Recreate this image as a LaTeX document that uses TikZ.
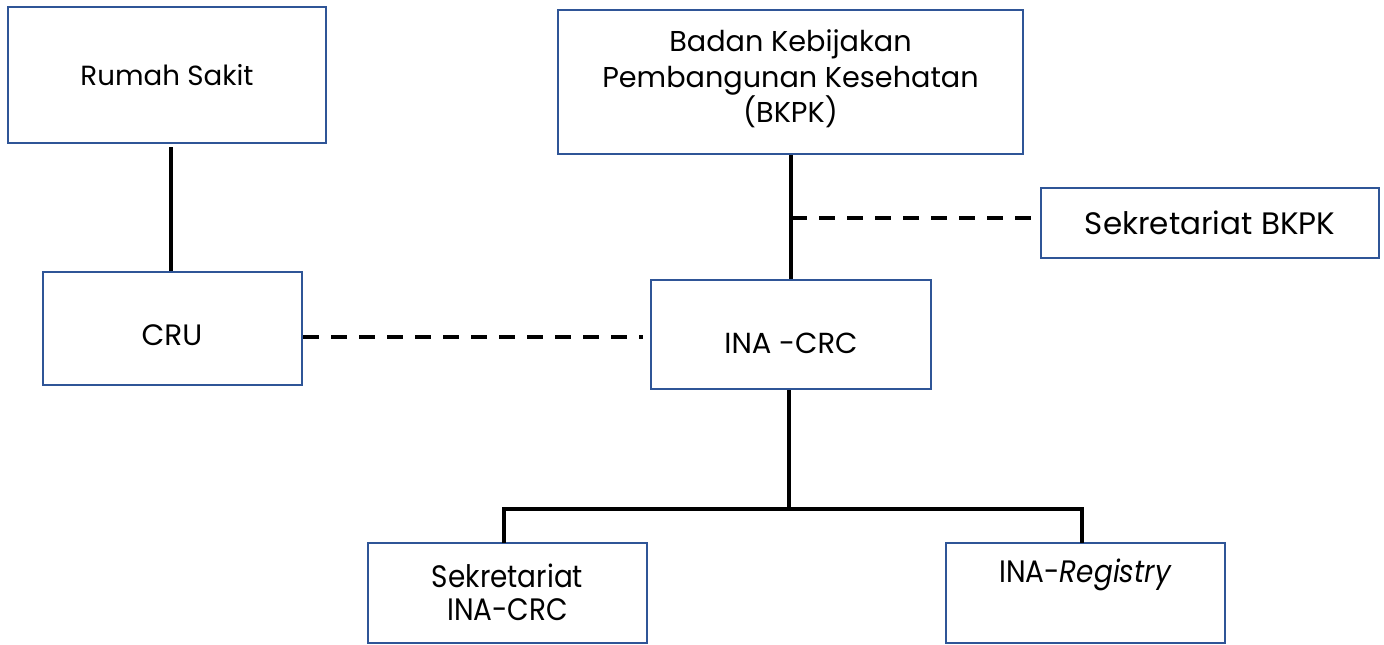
\documentclass[tikz,border=0pt]{standalone}
\usepackage{fontspec}
\setmainfont{Poppins}
\newfontfamily\narrowfont[FakeStretch=0.9]{Poppins}
\definecolor{boxblue}{HTML}{2F5597}
\begin{document}
\begin{tikzpicture}[x=1pt,y=-1pt,
  box/.style={draw=boxblue,line width=2.2pt,fill=white,inner sep=0pt,align=center},
  txt/.style={inner sep=0pt,align=center},
  solidline/.style={line width=3.4pt},
  dashline/.style={line width=3.4pt,dash pattern=on 16pt off 12pt}]
\useasboundingbox (0,0) rectangle (1384,645);
\node[box,minimum width=318pt,minimum height=136pt,font=\fontsize{27.7}{35}\selectfont] (rs) at (167,75) {Rumah Sakit};
\node[box,minimum width=465pt,minimum height=144pt] (bkpk) at (790.5,82) {};
\node[txt,font=\fontsize{28.7}{35.5}\selectfont] (bkpkt) at (790.5,79) {Badan Kebijakan\\Pembangunan Kesehatan\\(BKPK)};
\node[box,minimum width=338pt,minimum height=70pt,font=\fontsize{31}{35}\selectfont] (sbkpk) at (1210,223) {Sekretariat BKPK};
\node[box,minimum width=259pt,minimum height=113pt] (cru) at (172.5,328.5) {};
\node[txt,font=\fontsize{29.5}{35}\selectfont] (crut) at (172,335) {CRU};
\node[box,minimum width=280pt,minimum height=109pt] (crc) at (791,334.5) {};
\node[txt,font=\fontsize{29}{35}\selectfont] (crct) at (791,343) {INA -CRC};
\node[box,minimum width=279pt,minimum height=100pt] (scrc) at (507.5,593) {};
\node[txt,font=\narrowfont\fontsize{31}{33}\selectfont] (scrct) at (507.5,592) {Sekretariat\\INA-CRC};
\node[box,minimum width=279pt,minimum height=100pt] (reg) at (1085.5,593) {};
\node[txt,font=\narrowfont\fontsize{31}{33}\selectfont] (regt) at (1085.5,575) {INA-\textit{Registry}};
\coordinate (rsb) at (171,147);
\draw[solidline] (rsb) -- (rsb |- cru.north);
\draw[solidline] (bkpk.south -| 791,0) -- (crc.north -| 791,0);
\coordinate (j1) at (791,218);
\coordinate (j1e) at (1035,218);
\draw[dashline] (j1) -- (j1e);
\coordinate (j2e) at (643,337);
\draw[dashline] (cru.east |- j2e) -- (j2e);
\coordinate (br) at (789,509);
\draw[solidline] (crc.south -| br) -- (br);
\draw[solidline,line join=miter] (504,543) |- (br) -| (1082,543);
\end{tikzpicture}
\end{document}
